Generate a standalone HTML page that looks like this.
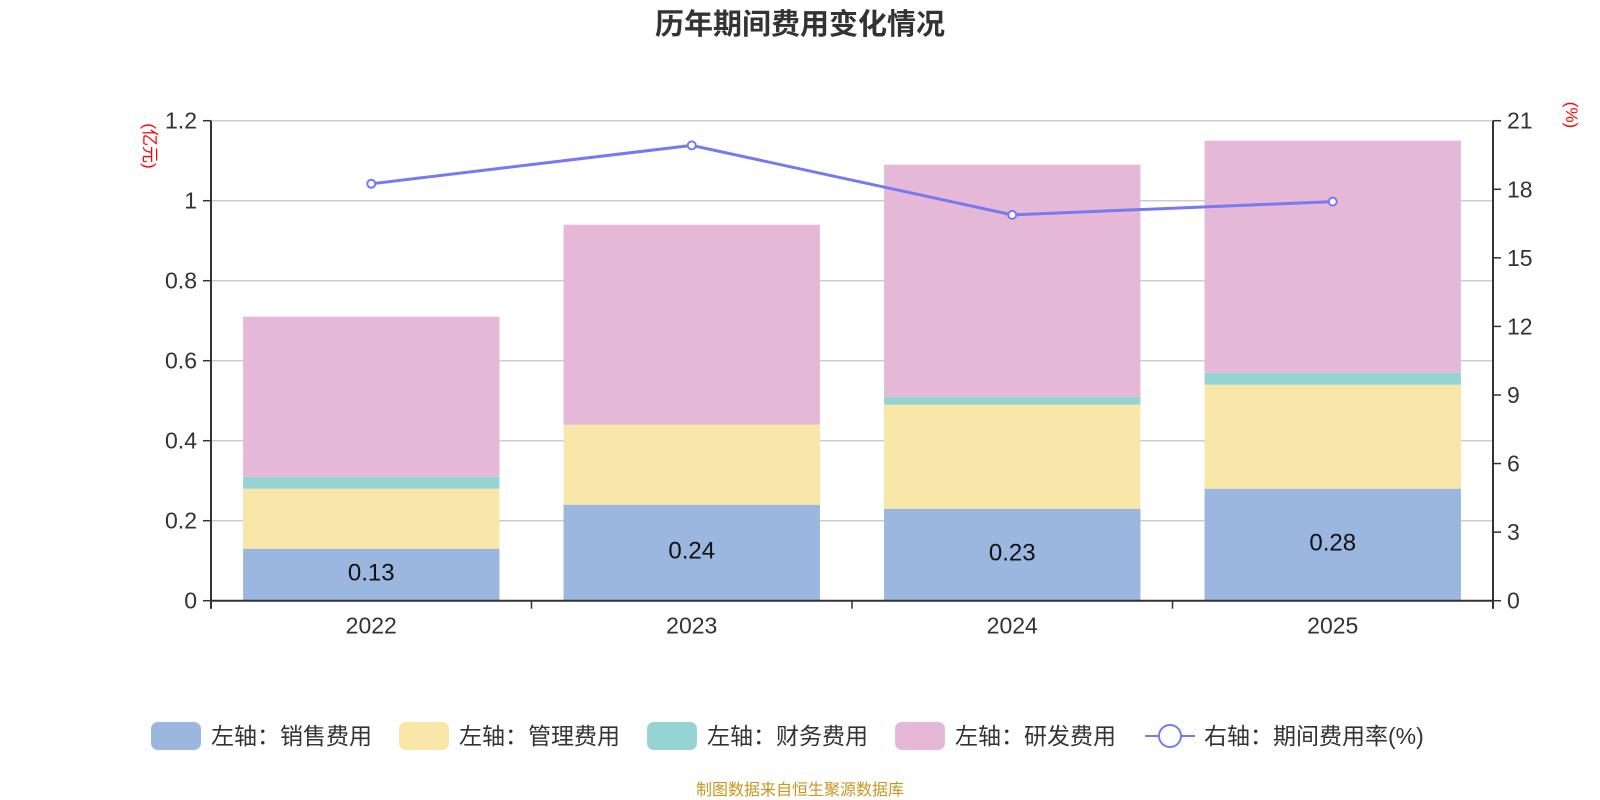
<!DOCTYPE html>
<html><head><meta charset="utf-8">
<style>
html,body{margin:0;padding:0;background:#fff;width:1600px;height:800px;overflow:hidden}
svg text{font-family:"Liberation Sans","Noto Sans CJK SC",sans-serif}
</style></head>
<body>
<svg id="chart" width="1600" height="800" xmlns="http://www.w3.org/2000/svg">
<text x="800" y="34" text-anchor="middle" font-size="29" font-weight="bold" fill="#333">历年期间费用变化情况</text>
<text transform="translate(144,146) rotate(90)" text-anchor="middle" font-size="17" fill="#ff0000">(亿元)</text>
<text transform="translate(1566,115) rotate(90)" text-anchor="middle" font-size="17" fill="#ff0000">(%)</text>
<g id="grid"></g><g id="bars"></g><g id="axes"></g><g id="line"></g>
<g id="legend"></g>
<text x="800" y="795" text-anchor="middle" font-size="16" fill="#c8961e">制图数据来自恒生聚源数据库</text>
</svg>
<script>
const categories=["2022","2023","2024","2025"];
const sales=[0.13,0.24,0.23,0.28];
const admin=[0.15,0.20,0.26,0.26];
const finance=[0.03,0.00,0.02,0.03];
const rnd=[0.40,0.50,0.58,0.58];
const rate=[18.24,19.92,16.88,17.46];
const leftTicks=[0,0.2,0.4,0.6,0.8,1,1.2];
const rightTicks=[0,3,6,9,12,15,18,21];
const seriesNames=["左轴：销售费用","左轴：管理费用","左轴：财务费用","左轴：研发费用"];
const colors=["#9bb7e0","#f8e7a9","#96d3d3","#e6b8d7"];

const NS="http://www.w3.org/2000/svg";
const X0=211,X1=1493,Y0=600.7,Y1=120.7;
const band=(X1-X0)/categories.length;
const xc=i=>X0+band*(i+0.5);
const yL=v=>Y0-(v/1.2)*(Y0-Y1);
const yR=v=>Y0-(v/21)*(Y0-Y1);
function mk(tag,attrs,parent){const e=document.createElementNS(NS,tag);for(const k in attrs)e.setAttribute(k,attrs[k]);parent.appendChild(e);return e;}
const grid=document.getElementById('grid'),bars=document.getElementById('bars'),axes=document.getElementById('axes'),line=document.getElementById('line'),legend=document.getElementById('legend');

leftTicks.forEach(t=>{
  const y=yL(t);
  if(t>0){const g=mk('line',{x1:X0,x2:X1,y1:y,y2:y,stroke:'#cccccc','stroke-width':1.5},grid);
  
  }
  mk('line',{x1:X0-8,x2:X0,y1:y,y2:y,stroke:'#333','stroke-width':1.5},axes);
  const tx=mk('text',{x:X0-14,y:y+8,'text-anchor':'end','font-size':23,fill:'#333'},axes);
  tx.textContent=String(t);
  
  
});
rightTicks.forEach(t=>{
  const y=yR(t);
  mk('line',{x1:X1,x2:X1+8,y1:y,y2:y,stroke:'#333','stroke-width':1.5},axes);
  const tx=mk('text',{x:X1+14,y:y+8,'font-size':23,fill:'#333'},axes);
  tx.textContent=String(t);
  
  
});
mk('line',{x1:X0,x2:X0,y1:Y1,y2:Y0+8,stroke:'#333','stroke-width':2},axes);
mk('line',{x1:X1,x2:X1,y1:Y1,y2:Y0+8,stroke:'#333','stroke-width':2},axes);
mk('line',{x1:X0,x2:X1,y1:Y0,y2:Y0,stroke:'#333','stroke-width':2},axes);
for(let i=0;i<=categories.length;i++){mk('line',{x1:X0+band*i,x2:X0+band*i,y1:Y0,y2:Y0+8,stroke:'#333','stroke-width':1.5},axes);}
categories.forEach((c,i)=>{
  const tx=mk('text',{x:xc(i),y:Y0+33,'text-anchor':'middle','font-size':23,fill:'#333'},axes);
  tx.textContent=c;
  
  
});

const series=[sales,admin,finance,rnd];
const bw=band*0.8;
categories.forEach((c,i)=>{
  let base=0;
  series.forEach((s,k)=>{
    const v=s[i];
    const r=mk('rect',{x:xc(i)-bw/2,y:yL(base+v),width:bw,height:yL(base)-yL(base+v),fill:colors[k]},bars);
    
    
    if(k===0){
      const tx=mk('text',{x:xc(i),y:(yL(0)+yL(v))/2+6,'text-anchor':'middle','font-size':24,fill:'#111'},bars);
      tx.textContent=v.toFixed(2);
      
      
    }
    base+=v;
  });
});

const pts=rate.map((v,i)=>xc(i)+','+yR(v)).join(' ');
const pl=mk('polyline',{points:pts,fill:'none',stroke:'#7779f2','stroke-width':3},line);


rate.forEach((v,i)=>{
  const c=mk('circle',{cx:xc(i),cy:yR(v),r:4,fill:'#fff',stroke:'#7779f2','stroke-width':2},line);
  
  
});

const lx=[151,399,647,895];
seriesNames.forEach((n,k)=>{
  const r=mk('rect',{x:lx[k],y:722,width:50,height:28,rx:7,fill:colors[k]},legend);
  
  
  const t=mk('text',{x:lx[k]+60,y:744,'font-size':23,fill:'#333'},legend);
  t.textContent=n;
  
  
});
mk('line',{x1:1145,x2:1195,y1:736,y2:736,stroke:'#7779f2','stroke-width':2},legend);
const lc=mk('circle',{cx:1170,cy:736,r:11,fill:'#fff',stroke:'#7779f2','stroke-width':2},legend);


const lt=mk('text',{x:1204,y:744,'font-size':23,fill:'#333'},legend);
lt.textContent="右轴：期间费用率(%)";


</script>
</body></html>
